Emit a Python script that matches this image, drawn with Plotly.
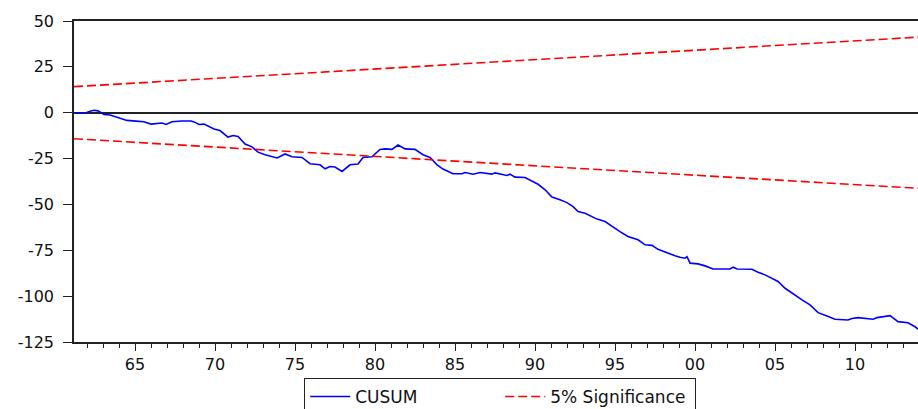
import plotly.graph_objects as go

# CUSUM series (year, value)
cusum_year = [1961.19, 1961.94, 1962.19, 1962.44, 1962.69, 1963.06, 1963.44, 1963.88, 1964.5, 1965.06,
              1965.56, 1966.0, 1966.38, 1966.69, 1966.94, 1967.31, 1967.94, 1968.5, 1968.69, 1969.0,
              1969.31, 1969.63, 1969.94, 1970.31, 1970.81, 1971.13, 1971.44, 1971.88, 1972.31, 1972.69,
              1973.13, 1973.88, 1974.38, 1974.81, 1975.44, 1975.94, 1976.56, 1976.88, 1977.19, 1977.5,
              1977.94, 1978.44, 1978.94, 1979.25, 1979.81, 1980.31, 1980.63, 1981.06, 1981.44, 1981.88,
              1982.5, 1983.0, 1983.44, 1983.88, 1984.25, 1984.88, 1985.44, 1985.63, 1986.13, 1986.56,
              1987.31, 1987.5, 1988.0, 1988.25, 1988.44, 1988.75, 1989.38, 1989.81, 1990.19, 1990.63,
              1991.06, 1991.56, 1992.0, 1992.38, 1992.69, 1993.13, 1993.56, 1993.88, 1994.38, 1994.81,
              1995.31, 1995.81, 1996.44, 1996.88, 1997.31, 1997.69, 1998.31, 1998.75, 1999.06, 1999.38,
              1999.5, 1999.69, 2000.19, 2000.63, 2001.13, 2002.19, 2002.38, 2002.63, 2003.56, 2003.94,
              2004.38, 2004.81, 2005.19, 2005.63, 2006.13, 2006.69, 2007.19, 2007.69, 2008.25, 2008.75,
              2009.56, 2009.81, 2010.19, 2011.13, 2011.38, 2012.19, 2012.69, 2013.31, 2013.75, 2013.94]
cusum_value = [0.0, 0.0, 0.8, 1.3, 1.0, -0.9, -1.2, -2.3, -4.2, -4.6,
               -4.9, -6.2, -6.0, -5.6, -6.4, -4.9, -4.5, -4.5, -5.0, -6.4,
               -6.2, -7.5, -8.9, -9.7, -13.3, -12.4, -12.9, -17.1, -18.6, -21.5,
               -22.9, -24.7, -22.5, -24.0, -24.4, -27.8, -28.4, -30.6, -29.3, -29.6,
               -32.0, -28.4, -28.0, -24.4, -24.0, -20.0, -19.7, -20.0, -17.6, -19.7,
               -20.0, -22.9, -24.4, -28.4, -30.7, -33.3, -33.3, -32.6, -33.5, -32.6,
               -33.5, -32.8, -33.5, -34.2, -33.5, -35.1, -35.3, -37.5, -39.0, -42.0,
               -46.0, -47.5, -49.0, -51.2, -53.9, -54.8, -56.6, -58.0, -59.3, -62.0,
               -64.8, -67.5, -69.3, -72.0, -72.3, -74.5, -76.7, -78.0, -78.8, -79.3,
               -78.5, -82.0, -82.4, -83.5, -85.2, -85.2, -84.2, -85.2, -85.3, -87.0,
               -88.4, -90.2, -92.0, -95.7, -98.8, -102.0, -104.8, -109.0, -110.8, -112.6,
               -113.0, -112.2, -111.7, -112.6, -111.7, -110.6, -113.9, -114.5, -116.7, -118.0]

# 5% significance bounds (straight lines) – endpoints
band_year = [1961.19, 2013.94]
band_upper = [14.2, 41.2]
band_lower = [-14.2, -41.2]

x_tick_vals = [1965, 1970, 1975, 1980, 1985, 1990, 1995, 2000, 2005, 2010]
x_tick_text = ["65", "70", "75", "80", "85", "90", "95", "00", "05", "10"]
y_tick_vals = [-125, -100, -75, -50, -25, 0, 25, 50]
y_tick_text = ["-125", "-100", "-75", "-50", "-25", "0", "25", "50"]

FONT = "DejaVu Sans"

fig = go.Figure()
fig.add_trace(go.Scatter(x=cusum_year, y=cusum_value, mode="lines", name="CUSUM",
                         line=dict(color="#0000FF", width=1.6)))
fig.add_trace(go.Scatter(x=band_year, y=band_upper, mode="lines", name="5% Significance",
                         line=dict(color="#FF0000", width=1.6, dash="9px,4px")))
fig.add_trace(go.Scatter(x=band_year, y=band_lower, mode="lines", name="5% Significance",
                         showlegend=False,
                         line=dict(color="#FF0000", width=1.6, dash="9px,4px")))

fig.update_layout(
    width=918, height=409,
    margin=dict(l=74, r=0, t=21, b=67, autoexpand=False),
    paper_bgcolor="white", plot_bgcolor="white",
    font=dict(family=FONT, size=15, color="#111"),
    showlegend=True,
    legend=dict(orientation="h", xref="paper", yref="paper",
                x=0.505, xanchor="center", y=-0.112, yanchor="top",
                bordercolor="#222", borderwidth=1, bgcolor="white",
                font=dict(family=FONT, size=17, color="#111"),
                entrywidth=140, itemwidth=40),
)
fig.update_xaxes(range=[1961.1875, 2013.9375], showgrid=False, zeroline=False,
                 showline=True, linecolor="#222", linewidth=1.5, mirror=True,
                 tickmode="array", tickvals=x_tick_vals, ticktext=x_tick_text,
                 ticks="outside", ticklen=7, tickcolor="#222", tickwidth=1.2,
                 minor=dict(tickmode="linear", tick0=1961, dtick=1, ticks="outside",
                            ticklen=4, tickcolor="#222", tickwidth=1.2),
                 tickfont=dict(family=FONT, size=16, color="#111"))
fig.update_yaxes(range=[-125, 50], showgrid=False,
                 zeroline=True, zerolinecolor="#222", zerolinewidth=1.5,
                 showline=True, linecolor="#222", linewidth=1.5,
                 tickmode="array", tickvals=y_tick_vals, ticktext=y_tick_text,
                 ticks="outside", ticklen=9, tickcolor="#222", tickwidth=1.2,
                 ticklabelstandoff=6,
                 tickfont=dict(family=FONT, size=16, color="#111"))

fig.write_html("out.html")
